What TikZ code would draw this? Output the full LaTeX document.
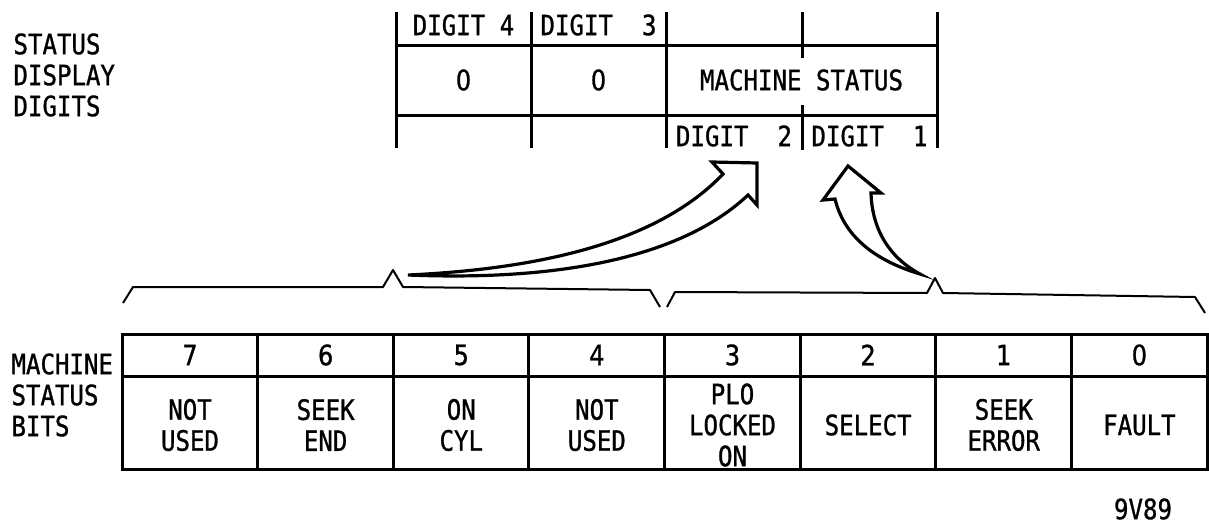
\documentclass[tikz,border=0pt]{standalone}
\usepackage{fontspec}
\setmainfont[FakeStretch=0.86, FakeBold=1]{DejaVu Sans Mono}
\newfontfamily\plainzero[FakeStretch=0.86, FakeBold=1]{DejaVu Sans}
\begin{document}
\begin{tikzpicture}[x=1pt, y=-1pt, line width=3pt,
  letter/.style={font=\fontsize{28}{31}\selectfont, align=center, inner sep=0pt},
  brace/.style={line width=2pt, line join=round},
  bigarrow/.style={line width=3.2pt, line join=miter, fill=white}]
\useasboundingbox (0,0) rectangle (1209,527);
% status display digits
\node (display) [letter, align=left, anchor=west] at (12,75) {STATUS\\DISPLAY\\DIGITS};
\draw (396,46) -- (937,46) (396,115) -- (937,115);
\foreach \x in {396,531,666,937} \draw (\x,12) -- (\x,148);
\draw (802,12) -- (802,58) (802,105) -- (802,150);
\node (digit4) [letter] at (463.5,25) {DIGIT 4};
\node (digit3) [letter] at (598.5,25) {DIGIT~~3};
\node (zero4) [letter] at (463.5,80) {\plainzero 0};
\node (zero3) [letter] at (598.5,80) {\plainzero 0};
\node (machine) [letter] at (801.5,80) {MACHINE STATUS};
\node (digit2) [letter] at (734,136) {DIGIT~~2};
\node (digit1) [letter] at (869.5,136) {DIGIT~~1};
% machine status bits
\node (bits) [letter, align=left, anchor=west] at (10,395) {MACHINE\\STATUS\\BITS};
\draw (122,334) rectangle (1207,469);
\draw (122,376) -- (1207,376);
\foreach \i in {1,...,7} \draw ({122+\i*135.625},334) -- ++(0,135);
\foreach \b/\t [count=\c from 0] in {7/NOT\\USED, 6/SEEK\\END, 5/ON\\CYL, 4/NOT\\USED,
    3/PLO\\LOCKED\\ON, 2/SELECT, 1/SEEK\\ERROR, 0/FAULT} {
  \node (num\b) [letter] at ({190+\c*135.625},355) {\plainzero\b};
  \node (bit\b) [letter] at ({190+\c*135.625},425) {\t};
}
% braces and arrows
\draw[brace] (123,303) -- (133,287) -- (383,287) -- (393,270) -- (403,287) -- (650,290) -- (660,307);
\draw[brace] (667,307) -- (675,292) -- (927,293) -- (935,278) -- (943,293) -- (1195,297) -- (1205,313);
\coordinate (hitail) at (408,275);
\coordinate (lotail) at (920,274);
\draw[bigarrow] (hitail) .. controls (560,268) and (665,235) .. (723,174) -- (712,162) -- (757,163)
  -- (757,205) -- (748,195) .. controls (690,250) and (580,282) .. cycle;
\draw[bigarrow] (lotail) .. controls (880,262) and (845,240) .. (835,199) -- (823,200) -- (848,166)
  -- (881,193) -- (871,193) .. controls (872,230) and (890,258) .. cycle;
\node (code) [letter] at (1143,509) {9V89};
\end{tikzpicture}
\end{document}
